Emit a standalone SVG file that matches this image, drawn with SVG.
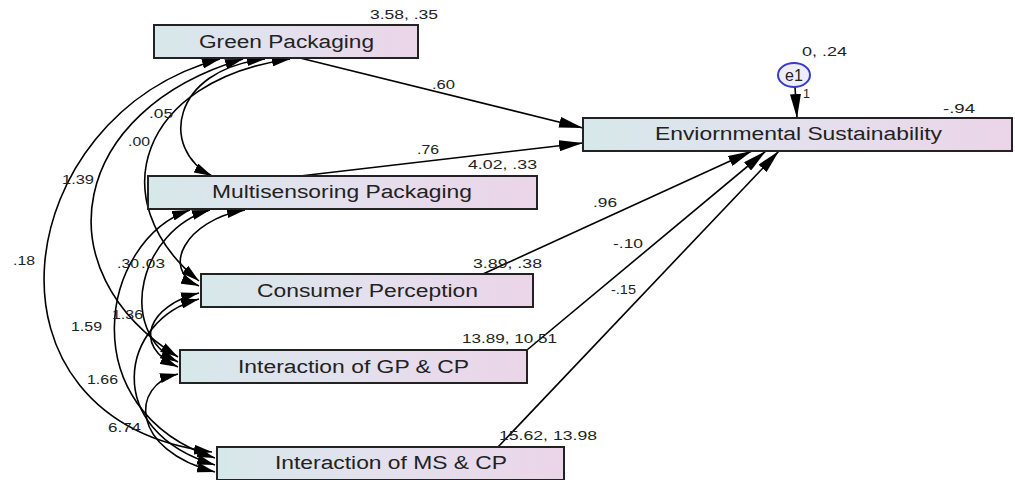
<svg xmlns="http://www.w3.org/2000/svg" width="1015" height="480" viewBox="0 0 1015 480">
<defs>
<linearGradient id="bg" x1="0" y1="0" x2="1" y2="0">
<stop offset="0" stop-color="#d6e8ea"/>
<stop offset="0.5" stop-color="#e4e0ee"/>
<stop offset="1" stop-color="#ebd5e8"/>
</linearGradient>
<marker id="ah" markerUnits="userSpaceOnUse" markerWidth="24" markerHeight="11" refX="24" refY="5.5" orient="auto-start-reverse" viewBox="0 0 24 11">
<path d="M0,0 L24,5.5 L0,11 z" fill="#000"/>
</marker>
<marker id="ch" markerUnits="userSpaceOnUse" markerWidth="18" markerHeight="10" refX="18" refY="5" orient="auto-start-reverse" viewBox="0 0 18 10">
<path d="M0,0 L18,5 L0,10 z" fill="#000"/>
</marker>
</defs>
<style>
.box{fill:url(#bg);stroke:#222;stroke-width:2}
.nt{font-family:"Liberation Sans",Arial,sans-serif;font-size:18px;fill:#222}
.lb{font-family:"Liberation Sans",Arial,sans-serif;font-size:12.5px;fill:#222}
.path{fill:none;stroke:#000;stroke-width:1.6;marker-end:url(#ah)}
.cov{fill:none;stroke:#000;stroke-width:1.6;marker-start:url(#ch);marker-end:url(#ch)}
</style>
<rect width="1015" height="480" fill="#fff"/>
<g id="connectors">
<path class="cov" d="M220,59 C10,115 -35,420 212,452"/>
<path class="cov" d="M243,59 C70,110 40,270 178,357"/>
<path class="cov" d="M290,59 C140,80 100,200 199,281"/>
<path class="cov" d="M265,59 C170,70 160,150 212,176"/>
<path class="cov" d="M245,210 C185,220 160,270 199,286"/>
<path class="cov" d="M210,210 C140,230 115,330 178,362"/>
<path class="cov" d="M190,210 C100,240 70,410 215,458"/>
<path class="cov" d="M199,293 C150,305 130,345 178,367"/>
<path class="cov" d="M199,299 C120,320 100,430 215,465"/>
<path class="cov" d="M178,374 C130,385 130,450 215,472"/>
<path class="path" d="M300,58 L583,128"/>
<path class="path" d="M300,176 L583,143"/>
<path class="path" d="M483,274 L752,151"/>
<path class="path" d="M527,350 L766,151"/>
<path class="path" d="M498,447 L779,151"/>
<path class="path" d="M795,87 L797,118"/>
<text class="lb" x="432" y="89" textLength="23" lengthAdjust="spacingAndGlyphs">.60</text>
<text class="lb" x="417" y="154" textLength="22" lengthAdjust="spacingAndGlyphs">.76</text>
<text class="lb" x="593" y="207" textLength="24" lengthAdjust="spacingAndGlyphs">.96</text>
<text class="lb" x="613" y="248" textLength="30" lengthAdjust="spacingAndGlyphs">-.10</text>
<text class="lb" x="611" y="294" textLength="25" lengthAdjust="spacingAndGlyphs">-.15</text>
<text class="lb" x="803" y="98">1</text>
<text class="lb" x="149" y="118" textLength="24" lengthAdjust="spacingAndGlyphs">.05</text>
<text class="lb" x="128" y="146" textLength="22" lengthAdjust="spacingAndGlyphs">.00</text>
<text class="lb" x="62" y="184" textLength="32" lengthAdjust="spacingAndGlyphs">1.39</text>
<text class="lb" x="13" y="265" textLength="22" lengthAdjust="spacingAndGlyphs">.18</text>
<text class="lb" x="117" y="268" textLength="22" lengthAdjust="spacingAndGlyphs">.30</text>
<text class="lb" x="141" y="268" textLength="24" lengthAdjust="spacingAndGlyphs">.03</text>
<text class="lb" x="71" y="331" textLength="31" lengthAdjust="spacingAndGlyphs">1.59</text>
<text class="lb" x="112" y="319" textLength="31" lengthAdjust="spacingAndGlyphs">1.36</text>
<text class="lb" x="87" y="384" textLength="31" lengthAdjust="spacingAndGlyphs">1.66</text>
<text class="lb" x="108" y="432" textLength="33" lengthAdjust="spacingAndGlyphs">6.74</text>
</g>
<g id="node-gp">
<rect class="box" x="154" y="25" width="264" height="33"/>
<text class="nt" x="199" y="48" textLength="175" lengthAdjust="spacingAndGlyphs">Green Packaging</text>
<text class="lb" x="370" y="19" textLength="68" lengthAdjust="spacingAndGlyphs">3.58, .35</text>
</g>
<g id="node-mp">
<rect class="box" x="148" y="176" width="389" height="33"/>
<text class="nt" x="212" y="198" textLength="260" lengthAdjust="spacingAndGlyphs">Multisensoring Packaging</text>
<text class="lb" x="468" y="169" textLength="69" lengthAdjust="spacingAndGlyphs">4.02, .33</text>
</g>
<g id="node-cp">
<rect class="box" x="201" y="274" width="332" height="33"/>
<text class="nt" x="257" y="297" textLength="221" lengthAdjust="spacingAndGlyphs">Consumer Perception</text>
<text class="lb" x="473" y="268" textLength="69" lengthAdjust="spacingAndGlyphs">3.89, .38</text>
</g>
<g id="node-gpcp">
<rect class="box" x="180" y="350" width="347" height="33"/>
<text class="nt" x="238" y="373" textLength="231" lengthAdjust="spacingAndGlyphs">Interaction of GP &amp; CP</text>
<text class="lb" x="462" y="343" textLength="95" lengthAdjust="spacingAndGlyphs">13.89, 10.51</text>
</g>
<g id="node-mscp">
<rect class="box" x="217" y="447" width="347" height="33"/>
<text class="nt" x="275" y="469" textLength="232" lengthAdjust="spacingAndGlyphs">Interaction of MS &amp; CP</text>
<text class="lb" x="499" y="440" textLength="98" lengthAdjust="spacingAndGlyphs">15.62, 13.98</text>
</g>
<g id="node-es">
<rect class="box" x="583" y="118" width="429" height="33"/>
<text class="nt" x="655" y="140" textLength="287" lengthAdjust="spacingAndGlyphs">Enviornmental Sustainability</text>
<text class="lb" x="943" y="113" textLength="32" lengthAdjust="spacingAndGlyphs">-.94</text>
</g>
<g id="node-e1">
<ellipse cx="794" cy="75" rx="16" ry="12" fill="#eeeefa" stroke="#3a3acc" stroke-width="2"/>
<text class="nt" x="794" y="81" text-anchor="middle" style="font-size:16px">e1</text>
<text class="lb" x="802" y="56" textLength="45" lengthAdjust="spacingAndGlyphs">0, .24</text>
</g>
</svg>
